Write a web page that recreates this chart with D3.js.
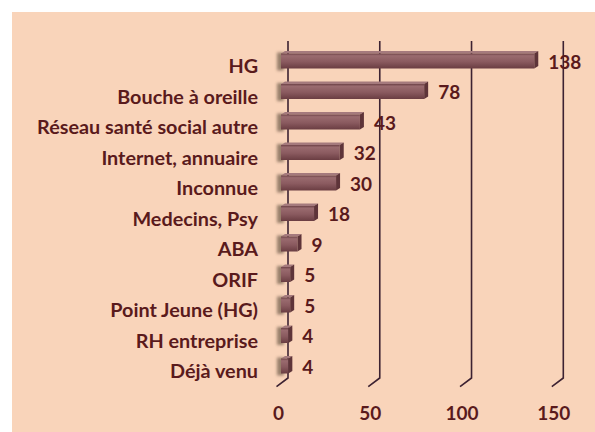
<!DOCTYPE html>
<html><head><meta charset="utf-8">
<script src="https://cdn.jsdelivr.net/npm/d3@7/dist/d3.min.js"></script>
<style>
html,body{margin:0;padding:0;background:#fff;}
svg{display:block;}
text{font-family:Lato,"Open Sans",sans-serif;font-weight:700;fill:#5a1a1c;}
</style></head>
<body>
<svg id="c" width="595" height="432"></svg>
<script>
const categories = ["HG","Bouche à oreille","Réseau santé social autre","Internet, annuaire","Inconnue","Medecins, Psy","ABA","ORIF","Point Jeune (HG)","RH entreprise","Déjà venu"];
const values = [138,78,43,32,30,18,9,5,5,4,4];
const tickValues = [0,50,100,150];

const svg = d3.select("#c");
svg.append("rect").attr("x",12).attr("y",12).attr("width",583).attr("height",420).attr("fill","#f9d4ba");

const defs = svg.append("defs");
const g1 = defs.append("linearGradient").attr("id","barFront").attr("x1",0).attr("y1",0).attr("x2",0).attr("y2",1);
g1.append("stop").attr("offset","0%").attr("stop-color","#6e4247");
g1.append("stop").attr("offset","15%").attr("stop-color","#9a6b6f");
g1.append("stop").attr("offset","55%").attr("stop-color","#8a5a5f");
g1.append("stop").attr("offset","100%").attr("stop-color","#6a3d42");
const blur = defs.append("filter").attr("id","shadow").attr("x","-50%").attr("y","-50%").attr("width","200%").attr("height","200%");
blur.append("feGaussianBlur").attr("stdDeviation",1.8);

const xBack = d3.scaleLinear().domain([0,150]).range([288,563.3]);
const xFront = d3.scaleLinear().domain([0,150]).range([278,553.3]);
const xBar = d3.scaleLinear().domain([0,150]).range([281,556.3]);
const y = d3.scalePoint().domain(categories).range([61,366]);
const barH = 15, dep = 4;

// gridlines
const gridTop = 41, gridBot = 378;
svg.append("g").selectAll("path").data(tickValues).join("path")
  .attr("d", d => `M${xBack(d)},${gridTop}V${gridBot}L${xBack(d)-11.5},${gridBot+8.7}`)
  .attr("fill","none").attr("stroke","#3d2232").attr("stroke-width",1.6);

// shadows near axis
svg.append("g").selectAll("rect").data(categories).join("rect")
  .attr("x", xBar(0)-4).attr("y", d => y(d)-barH/2-1).attr("width",7).attr("height",barH+3)
  .attr("fill","#4a3a2a").attr("opacity",0.55).attr("filter","url(#shadow)");

// bars
const bars = svg.append("g").selectAll("g").data(values.map((v,i)=>({c:categories[i],v}))).join("g");
bars.append("path").attr("d", d => {
  const x0=xBar(0), x1=xBar(d.v), yt=y(d.c)-barH/2;
  return `M${x0},${yt}L${x0+dep},${yt-dep*0.6}L${x1+dep},${yt-dep*0.6}L${x1},${yt}Z`;
}).attr("fill","#a57a7d");
bars.append("rect").attr("x", xBar(0)).attr("y", d => y(d.c)-barH/2)
  .attr("width", d => xBar(d.v)-xBar(0)).attr("height", barH).attr("fill","url(#barFront)");
bars.append("path").attr("d", d => {
  const x1=xBar(d.v), yt=y(d.c)-barH/2;
  return `M${x1},${yt}L${x1+dep},${yt-dep*0.6}L${x1+dep},${yt+barH-dep*0.6}L${x1},${yt+barH}Z`;
}).attr("fill","#5e3439");

// value labels
svg.append("g").selectAll("text").data(values.map((v,i)=>({c:categories[i],v}))).join("text")
  .attr("x", d => xBar(d.v)+14).attr("y", d => y(d.c)+3)
  .attr("dominant-baseline","middle").attr("font-size",19).text(d => d.v);

// category axis
const ya = svg.append("g").attr("transform","translate(258,6) scale(1.1,1)")
  .call(d3.axisLeft(y).tickSize(0).tickPadding(0));
ya.select(".domain").remove();
ya.selectAll("text").attr("font-size",18).attr("font-family","Lato").attr("font-weight",700).attr("fill","#5a1a1c");

// x axis labels
const xa = svg.append("g").attr("transform","translate(0,406)")
  .call(d3.axisBottom(xFront).tickValues(tickValues).tickSize(0).tickPadding(0));
xa.select(".domain").remove();
xa.selectAll("text").attr("font-size",19).attr("font-family","Lato").attr("font-weight",700).attr("fill","#5a1a1c");
</script>
</body></html>
